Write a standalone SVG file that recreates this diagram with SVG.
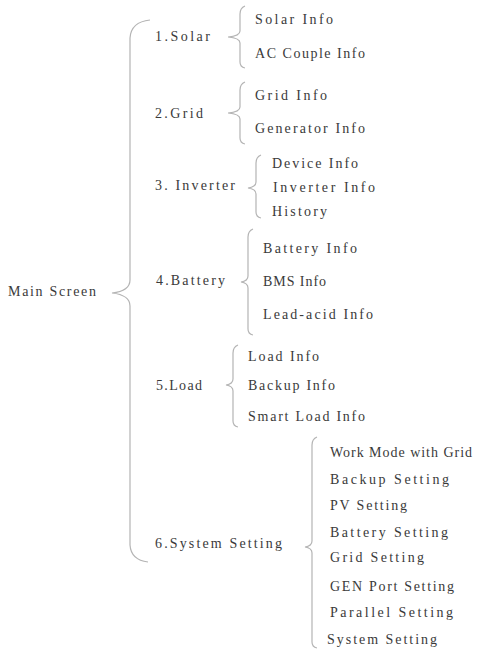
<svg xmlns="http://www.w3.org/2000/svg" width="481" height="651" viewBox="0 0 481 651">
<style>
text{font-family:"Liberation Serif","DejaVu Serif",serif;font-size:14px;fill:#3a3a3a;}
.br{fill:none;stroke:#b4b4b4;stroke-width:1.2;}
</style>
<rect width="481" height="651" fill="#fff"/>
<g id="connectors">
<path class="br" d="M150,20 Q131,22 130,38 L130,280 Q130,291 112,293 Q130,295 130,306 L130,545 Q131,560 148,562"/>
<path class="br" d="M245,6 Q240,8 240,14 L240,31 Q240,36 228,37 Q240,38 240,43 L240,62 Q240,67 245,68"/>
<path class="br" d="M245,82 Q240,84 240,90 L240,107 Q240,112 228,113 Q240,114 240,119 L240,138 Q240,143 245,144"/>
<path class="br" d="M261,155 Q256,157 256,163 L256,182 Q256,187 248,188 Q256,189 256,194 L256,212 Q256,217 261,218"/>
<path class="br" d="M253,229 Q248,231 248,237 L248,276 Q248,281 241,282 Q248,283 248,288 L248,329 Q248,334 253,335"/>
<path class="br" d="M238,345 Q233,347 233,353 L233,379 Q233,384 226,385 Q233,386 233,391 L233,421 Q233,426 238,427"/>
<path class="br" d="M317,437 Q312,439 312,445 L312,541 Q312,546 305,547 Q312,548 312,553 L312,642 Q312,647 317,648"/>
</g>
<g id="main"><text x="8" y="296" textLength="88" lengthAdjust="spacing">Main Screen</text></g>
<g id="solar"><text x="155" y="41" textLength="55" lengthAdjust="spacing">1.Solar</text></g>
<g id="grid"><text x="155" y="118" textLength="48" lengthAdjust="spacing">2.Grid</text></g>
<g id="inverter"><text x="155" y="190" textLength="80" lengthAdjust="spacing">3. Inverter</text></g>
<g id="battery"><text x="156" y="285" textLength="69" lengthAdjust="spacing">4.Battery</text></g>
<g id="load"><text x="156" y="390" textLength="46" lengthAdjust="spacing">5.Load</text></g>
<g id="system"><text x="155" y="548" textLength="127" lengthAdjust="spacing">6.System Setting</text></g>
<g id="solar-items">
<text x="255" y="24" textLength="78" lengthAdjust="spacing">Solar Info</text>
<text x="255" y="58" textLength="110" lengthAdjust="spacing">AC Couple Info</text>
</g>
<g id="grid-items">
<text x="255" y="100" textLength="72" lengthAdjust="spacing">Grid Info</text>
<text x="255" y="133" textLength="110" lengthAdjust="spacing">Generator Info</text>
</g>
<g id="inverter-items">
<text x="272" y="168" textLength="86" lengthAdjust="spacing">Device Info</text>
<text x="273" y="192" textLength="102" lengthAdjust="spacing">Inverter Info</text>
<text x="272" y="216" textLength="55" lengthAdjust="spacing">History</text>
</g>
<g id="battery-items">
<text x="263" y="253" textLength="94" lengthAdjust="spacing">Battery Info</text>
<text x="263" y="286" textLength="63" lengthAdjust="spacing">BMS Info</text>
<text x="263" y="319" textLength="110" lengthAdjust="spacing">Lead-acid Info</text>
</g>
<g id="load-items">
<text x="248" y="361" textLength="71" lengthAdjust="spacing">Load Info</text>
<text x="248" y="390" textLength="87" lengthAdjust="spacing">Backup Info</text>
<text x="248" y="421" textLength="117" lengthAdjust="spacing">Smart Load Info</text>
</g>
<g id="system-items">
<text x="330" y="457" textLength="142" lengthAdjust="spacing">Work Mode with Grid</text>
<text x="330" y="484" textLength="119" lengthAdjust="spacing">Backup Setting</text>
<text x="330" y="510" textLength="77" lengthAdjust="spacing">PV Setting</text>
<text x="330" y="537" textLength="118" lengthAdjust="spacing">Battery Setting</text>
<text x="330" y="562" textLength="94" lengthAdjust="spacing">Grid Setting</text>
<text x="330" y="591" textLength="124" lengthAdjust="spacing">GEN Port Setting</text>
<text x="330" y="617" textLength="123" lengthAdjust="spacing">Parallel Setting</text>
<text x="327" y="644" textLength="110" lengthAdjust="spacing">System Setting</text>
</g>
</svg>
